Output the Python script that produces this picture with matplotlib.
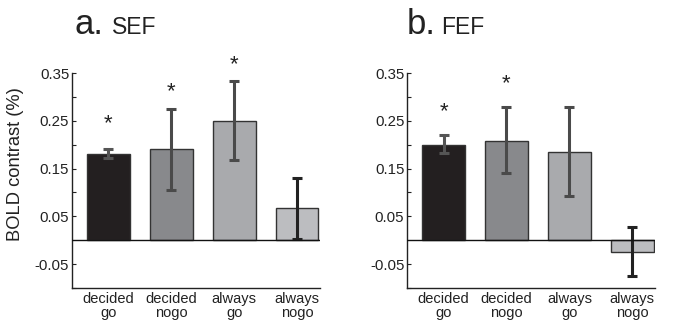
import matplotlib
matplotlib.use("Agg")
import matplotlib.pyplot as plt
import numpy as np

plt.rcParams['font.family'] = ['Liberation Sans', 'DejaVu Sans']

categories = ["decided\ngo", "decided\nnogo", "always\ngo", "always\nnogo"]
bar_colors = ["#231f20", "#88898c", "#a9aaad", "#bcbdc0"]
err_colors = ["#555555", "#4a4a4a", "#4a4a4a", "#222222"]

sef_values = [0.181, 0.190, 0.250, 0.067]
sef_err_low = [0.172, 0.106, 0.168, 0.003]
sef_err_high = [0.190, 0.274, 0.333, 0.130]
sef_stars = [0.245, 0.310, 0.367, None]

fef_values = [0.200, 0.208, 0.185, -0.025]
fef_err_low = [0.183, 0.140, 0.092, -0.075]
fef_err_high = [0.220, 0.279, 0.279, 0.027]
fef_stars = [0.270, 0.327, None, None]

major_ticks = [0.35, 0.25, 0.15, 0.05, -0.05]
major_labels = ["0.35", "0.25", "0.15", "0.05", "-0.05"]
minor_ticks = [0.30, 0.20, 0.10, -0.10]

fig = plt.figure(figsize=(6.73, 3.25), dpi=100)
ax1 = fig.add_axes([0.107, 0.1138, 0.368, 0.6615])
ax2 = fig.add_axes([0.6048, 0.1138, 0.3685, 0.6615])


def draw(ax, vals, lo, hi, stars):
    x = np.arange(len(vals))
    ax.bar(x, vals, width=0.68, color=bar_colors, edgecolor="#333333", linewidth=1.0, zorder=2)
    for i in range(len(vals)):
        ax.errorbar(x[i], vals[i], yerr=[[vals[i] - lo[i]], [hi[i] - vals[i]]],
                    fmt="none", ecolor=err_colors[i], elinewidth=2.2, capsize=3.5,
                    capthick=2.2, zorder=3)
        if stars[i] is not None:
            ax.text(x[i], stars[i], "*", ha="center", va="center", fontsize=16,
                    color="#222222", clip_on=False)
    ax.axhline(0, color="#111111", linewidth=1.0, zorder=4)
    ax.set_xlim(-0.58, 3.36)
    ax.set_ylim(-0.1, 0.35)
    ax.set_xticks(x)
    ax.set_xticklabels(categories, fontsize=10.5, color="#222222", linespacing=1.0)
    ax.tick_params(axis="x", length=0, pad=3)
    ax.set_yticks(major_ticks)
    ax.set_yticklabels(major_labels, fontsize=10.8, color="#222222")
    ax.set_yticks(minor_ticks, minor=True)
    ax.tick_params(axis="y", which="both", direction="in", length=3, width=0.8, pad=2, color="#222222")
    for s in ["top", "right"]:
        ax.spines[s].set_visible(False)
    for s in ["left", "bottom"]:
        ax.spines[s].set_linewidth(1.0)
        ax.spines[s].set_color("#222222")


draw(ax1, sef_values, sef_err_low, sef_err_high, sef_stars)
draw(ax2, fef_values, fef_err_low, fef_err_high, fef_stars)
ax1.set_ylabel("BOLD contrast (%)", fontsize=13.2, color="#222222")
ax1.yaxis.set_label_coords(-0.194, 0.577)

fig.text(0.110, 0.895, "a.", fontsize=25, color="#222222", va="baseline")
fig.text(0.167, 0.895, "SEF", fontsize=16.5, color="#222222", va="baseline")
fig.text(0.604, 0.895, "b.", fontsize=25, color="#222222", va="baseline")
fig.text(0.655, 0.895, "FEF", fontsize=16.5, color="#222222", va="baseline")

fig.savefig("out.png", dpi=100)
